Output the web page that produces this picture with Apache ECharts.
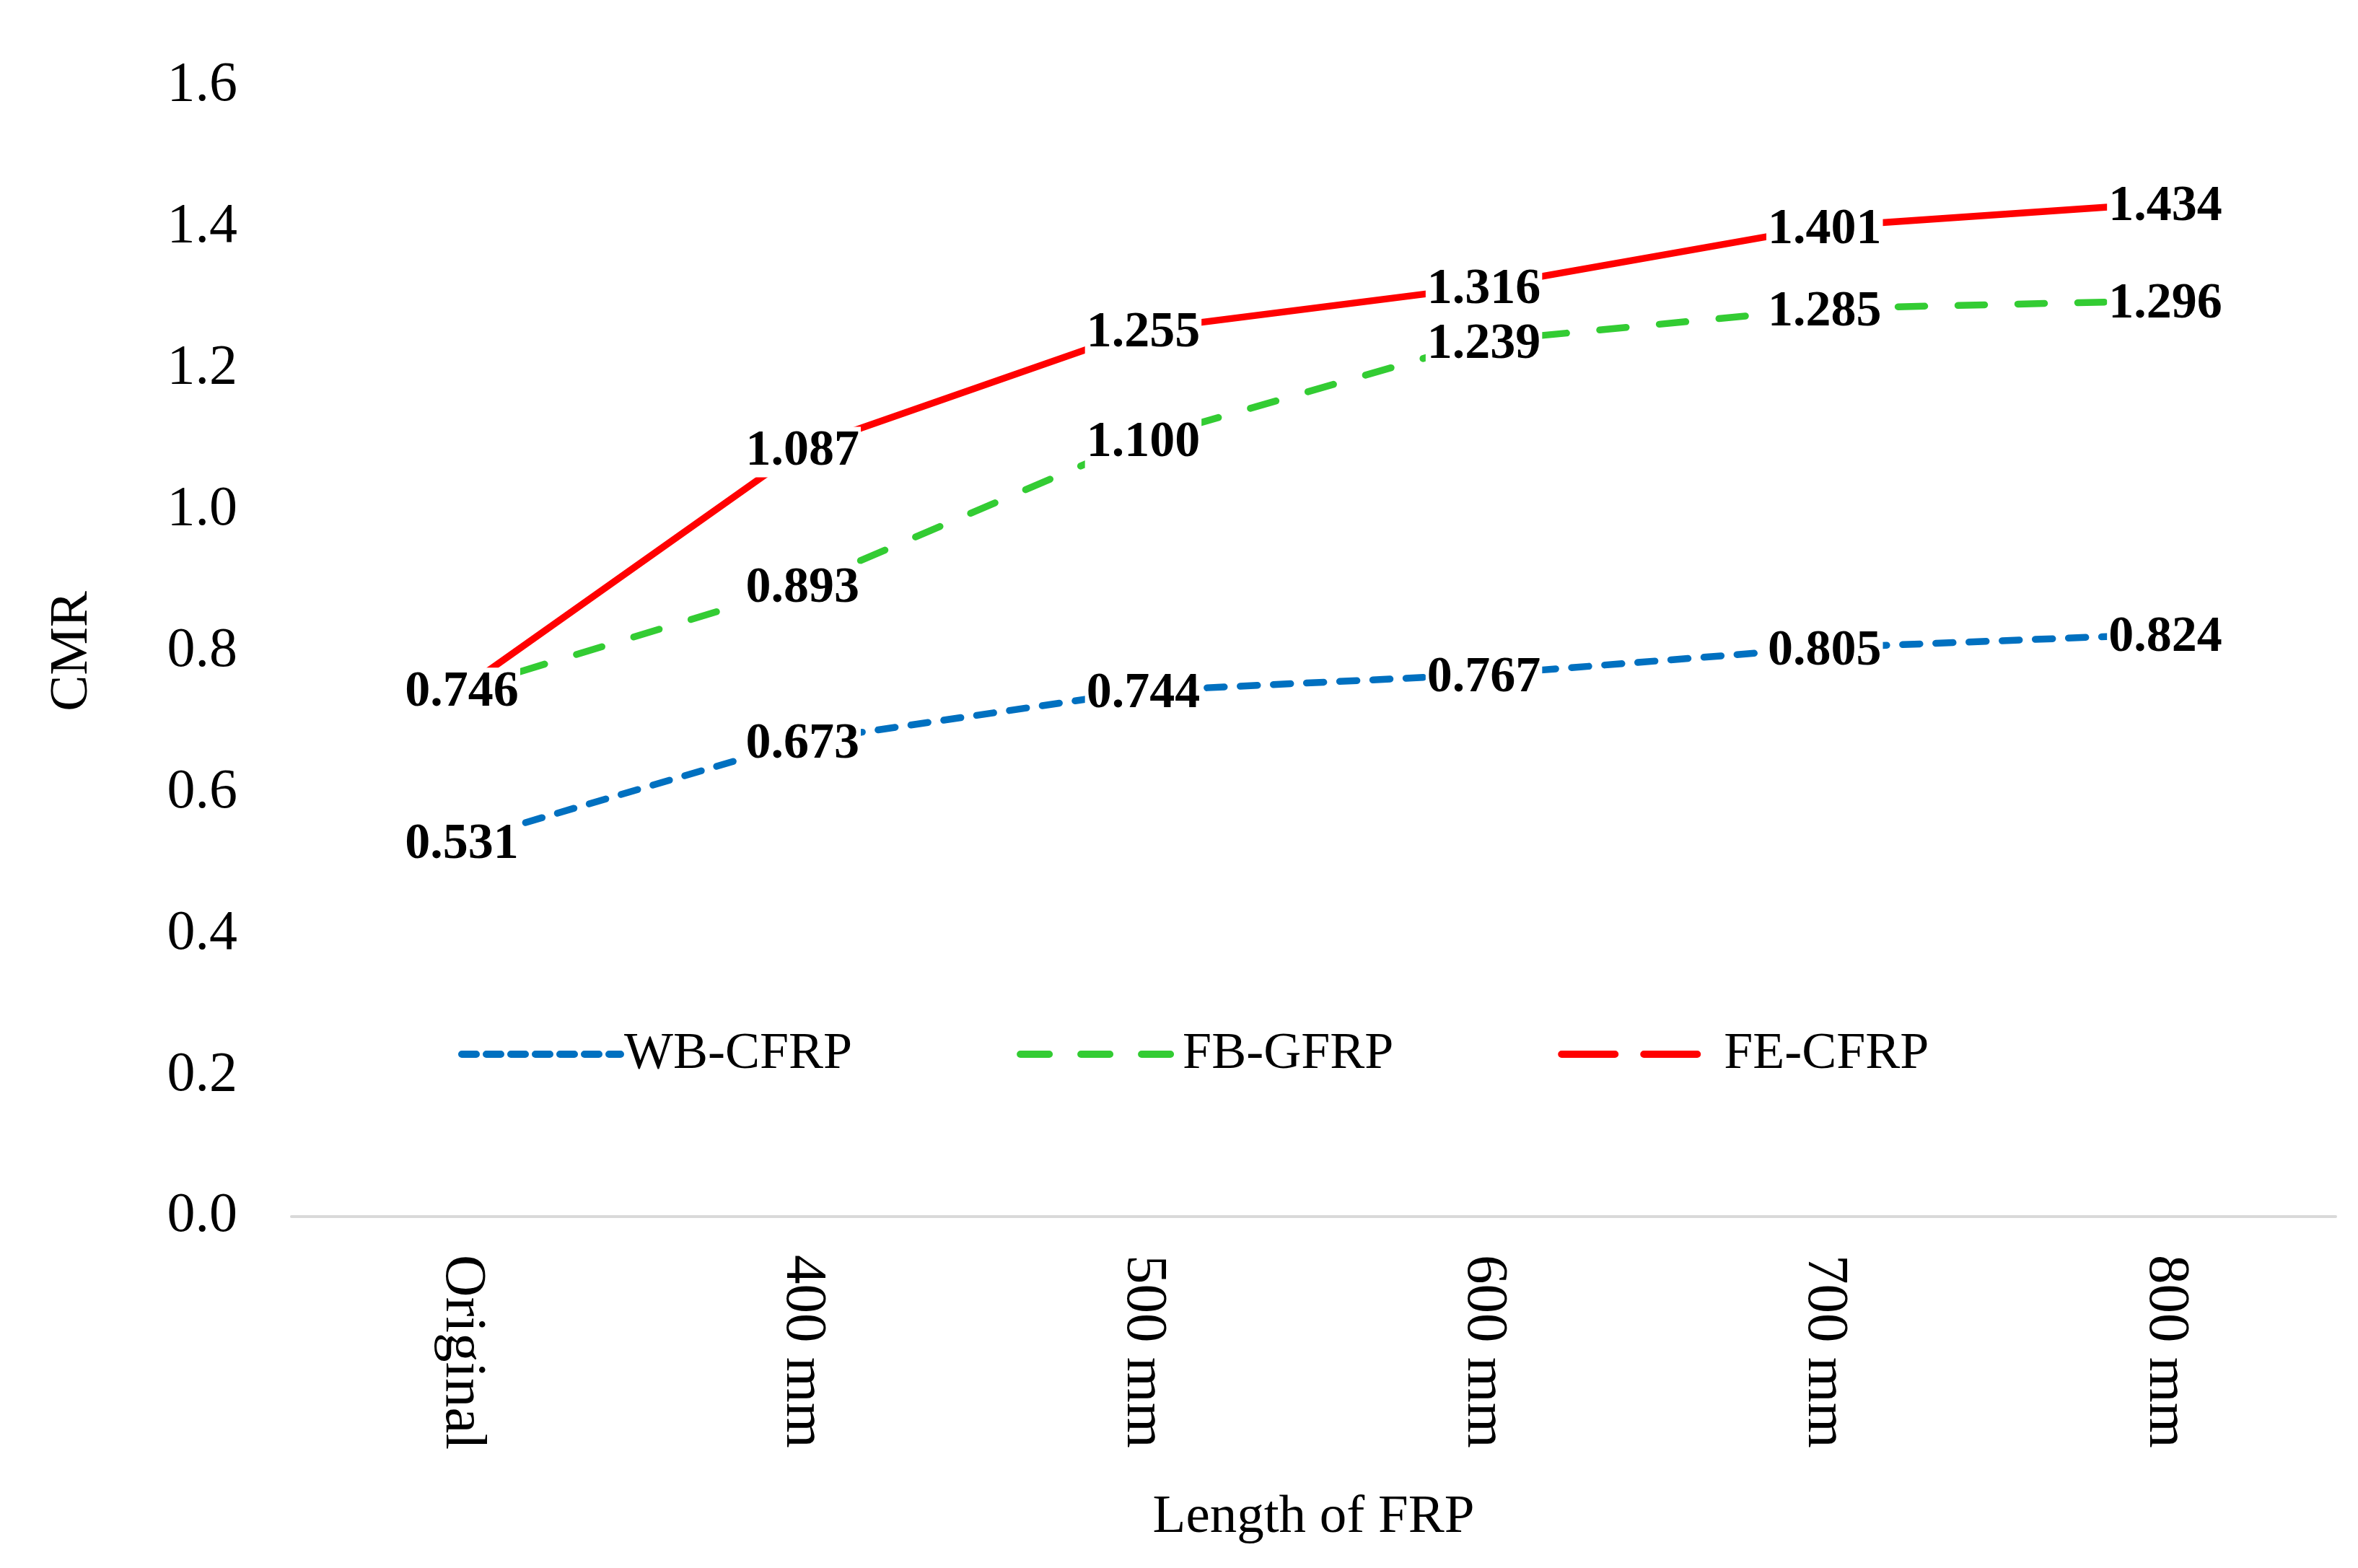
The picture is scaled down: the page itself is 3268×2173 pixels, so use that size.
<!DOCTYPE html>
<html>
<head>
<meta charset="utf-8">
<script src="https://cdn.jsdelivr.net/npm/echarts@6/dist/echarts.min.js"></script>
<style>
html,body{margin:0;padding:0;background:#fff;}
#chart{width:3268px;height:2173px;}
</style>
</head>
<body>
<div id="chart"></div>
<script>
const categories = ['Original', '400 mm', '500 mm', '600 mm', '700 mm', '800 mm'];
const wbCfrp = [0.531, 0.673, 0.744, 0.767, 0.805, 0.824];
const fbGfrp = [0.746, 0.893, 1.100, 1.239, 1.285, 1.296];
const feCfrp = [0.746, 1.087, 1.255, 1.316, 1.401, 1.434];
const yTicks = { min: 0, max: 1.6, interval: 0.2 };

const FONT = '"Liberation Serif", "Times New Roman", serif';

const labelStyle = {
  show: true,
  position: 'inside',
  offset: [0, 5],
  fontFamily: FONT,
  fontWeight: 'bold',
  fontSize: 70,
  color: '#000',
  backgroundColor: '#fff',
  padding: [0, 2],
  formatter: p => p.value.toFixed(3)
};

function mkSeries(name, data, color, dash) {
  return {
    name: name,
    type: 'line',
    data: data,
    symbol: 'circle',
    symbolSize: 0,
    itemStyle: { color: 'transparent', borderWidth: 0 },
    lineStyle: { color: color, width: 9.5, type: dash, cap: 'round' },
    label: labelStyle,
    emphasis: { disabled: true },
    animation: false
  };
}

const chart = echarts.init(document.getElementById('chart'), null, { renderer: 'canvas' });
chart.setOption({
  backgroundColor: '#fff',
  animation: false,
  grid: { left: 404, right: 31, top: 119, bottom: 487, containLabel: false },
  legend: {
    left: 630,
    top: 1420,
    itemWidth: 220,
    itemHeight: 14,
    itemGap: 228,
    itemStyle: { opacity: 0 },
    textStyle: { fontFamily: FONT, fontSize: 72, color: '#000' },
    data: [
      { name: 'WB-CFRP', lineStyle: { type: [20, 14], cap: 'round', width: 10, color: '#0070C0' } },
      { name: 'FB-GFRP', lineStyle: { type: [40, 44], cap: 'round', width: 10, color: '#33CC33' } },
      { name: 'FE-CFRP', lineStyle: { type: [74, 40], cap: 'round', width: 10, color: '#FF0000' } }
    ]
  },
  xAxis: {
    type: 'category',
    data: categories,
    boundaryGap: true,
    name: 'Length of FRP',
    nameLocation: 'middle',
    nameGap: 380,
    nameTextStyle: { fontFamily: FONT, fontSize: 75, color: '#000' },
    axisLine: { show: true, lineStyle: { color: '#D9D9D9', width: 4 } },
    axisTick: { show: false },
    axisLabel: { rotate: -90, margin: 53, fontFamily: FONT, fontSize: 81, color: '#000' },
    splitLine: { show: false }
  },
  yAxis: {
    type: 'value',
    min: yTicks.min,
    max: yTicks.max,
    interval: yTicks.interval,
    name: 'CMR',
    nameLocation: 'middle',
    nameGap: 266,
    nameTextStyle: { fontFamily: FONT, fontSize: 75, color: '#000' },
    axisLine: { show: false },
    axisTick: { show: false },
    splitLine: { show: false },
    axisLabel: { margin: 75, fontFamily: FONT, fontSize: 78, color: '#000', formatter: v => v.toFixed(1) }
  },
  series: [
    mkSeries('WB-CFRP', wbCfrp, '#0070C0', [24, 22]),
    mkSeries('FB-GFRP', fbGfrp, '#33CC33', [37, 46]),
    mkSeries('FE-CFRP', feCfrp, '#FF0000', 'solid')
  ]
});
</script>
</body>
</html>
